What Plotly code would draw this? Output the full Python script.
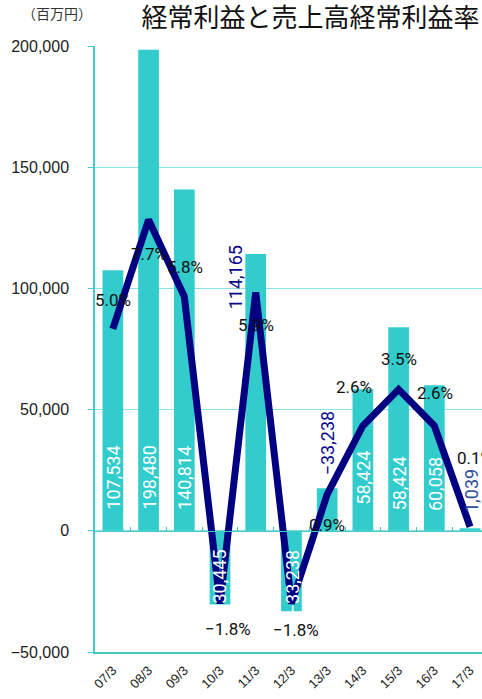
import plotly.graph_objects as go

# ---------------- data ----------------
periods = ["07/3", "08/3", "09/3", "10/3", "11/3", "12/3", "13/3", "14/3", "15/3", "16/3", "17/3"]
profit = [107534, 198480, 140814, -30445, 114165, -33238, 17600, 58424, 84000, 60058, 1039]
profit_labels = ["107,534", "198,480", "140,814", "−30,445", "114,165", "−33,238",
                 "−33,238", "58,424", "58,424", "60,058", "1,039"]
ratio = [5.0, 7.7, 5.8, -1.8, 5.9, -1.8, 0.9, 2.6, 3.5, 2.6, 0.1]
ratio_labels = ["5.0%", "7.7%", "5.8%", "−1.8%", "5.9%", "−1.8%", "0.9%", "2.6%", "3.5%", "2.6%", "0.1%"]
y_ticks = [-50000, 0, 50000, 100000, 150000, 200000]

title_text = "経常利益と売上高経常利益率"
unit_text = "（百万円）"

# ---------------- styles ----------------
BAR = "#33CCCC"
LINE = "#000080"
GRID = "#8AE3E3"
AXIS = "#45CACA"
LABEL_FONT = "Roboto, sans-serif"

# bar label placement: (inside?, xshift, yshift, colour)
bar_label_style = [
    (True, 1, 19, "white"), (True, 1, 19, "white"), (True, 1, 19, "white"),
    (True, 0, 17, "white"), (False, -20.5, -23, "#0A0A8C"), (True, 1, 17, "white"),
    (False, 0, 11, "#0A0A8C"), (True, 1, 24, "white"), (True, 1, 18, "white"),
    (True, 1, 18, "white"), (False, 1.5, 13, "#2F4F9A"),
]
# ratio label offsets (xshift, yshift)
ratio_label_shift = [(0.5, 29), (0, -34.5), (0.5, 29), (8, -25), (0, -32.5), (4.5, -26),
                     (0, -31), (-8.5, 38.5), (0.5, 30.5), (0.5, 33), (4.5, 68.5)]

fig = go.Figure()

fig.add_trace(go.Bar(
    x=periods, y=profit, marker=dict(color=BAR, line=dict(width=0)),
    hoverinfo="skip", showlegend=False,
))
fig.add_trace(go.Scatter(
    x=periods, y=ratio, yaxis="y2", mode="lines",
    line=dict(color=LINE, width=7),
    hoverinfo="skip", showlegend=False,
))
# invisible helper carrying the zero-line axis (ticks at category boundaries)
fig.add_trace(go.Scatter(
    x=periods, y=profit, xaxis="x2", mode="markers", marker=dict(opacity=0),
    hoverinfo="skip", showlegend=False,
))

annotations = []
for i, p in enumerate(periods):
    inside, xs, ys, col = bar_label_style[i]
    if inside:
        positive = profit[i] >= 0
        annotations.append(dict(x=p, y=0, xref="x", yref="y", text=profit_labels[i],
                                textangle=-90, showarrow=False, xanchor="center",
                                yanchor="bottom" if positive else "top",
                                xshift=xs, yshift=ys if positive else -ys,
                                font=dict(family=LABEL_FONT, size=18, color=col)))
    else:
        annotations.append(dict(x=p, y=profit[i], xref="x", yref="y", text=profit_labels[i],
                                textangle=-90, showarrow=False, xanchor="center",
                                yanchor="middle" if ys < 0 else "bottom",
                                xshift=xs, yshift=ys,
                                font=dict(family=LABEL_FONT, size=18, color=col)))
    dx, dy = ratio_label_shift[i]
    annotations.append(dict(x=p, y=ratio[i], xref="x", yref="y2", text=ratio_labels[i],
                            showarrow=False, xanchor="center", yanchor="middle",
                            xshift=dx, yshift=dy,
                            font=dict(family=LABEL_FONT, size=17, color="#111111")))

annotations.append(dict(x=-0.0988, y=1.0545, xref="paper", yref="paper", text=unit_text,
                        showarrow=False, xanchor="center", yanchor="middle",
                        font=dict(family="Noto Sans CJK JP", size=14, color="#333333")))

fig.update_layout(
    width=482, height=699,
    margin=dict(l=95.2, r=0, t=46, b=47),
    paper_bgcolor="white", plot_bgcolor="white",
    bargap=0.42,
    showlegend=False,
    title=dict(text=title_text, xref="container", yref="container",
               x=310.5 / 482, y=1 - 18 / 699, xanchor="center", yanchor="middle",
               font=dict(family="Noto Sans CJK JP", size=26, color="#111111")),
    xaxis=dict(type="category", categoryorder="array", categoryarray=periods,
               range=[-0.5, 10.335], showgrid=False, zeroline=False,
               showline=True, linecolor=AXIS, linewidth=1.5, ticks="",
               ticklabelstandoff=4,
               tickangle=-45, tickfont=dict(family="Liberation Sans", size=13, color="#222222")),
    xaxis2=dict(type="category", categoryorder="array", categoryarray=periods,
                matches="x", overlaying="x", anchor="free", position=0.2,
                showline=True, linecolor=AXIS, linewidth=1.2, showgrid=False,
                zeroline=False, ticks="inside", tickson="boundaries", ticklen=4,
                tickcolor=AXIS, showticklabels=False),
    yaxis=dict(range=[-50000, 200000], tickvals=y_ticks, tickformat=",",
               showgrid=True, gridcolor=GRID, gridwidth=1, zeroline=False,
               showline=True, linecolor=AXIS, linewidth=1.5,
               ticks="outside", ticklen=5, tickcolor=AXIS, ticklabelstandoff=16,
               tickfont=dict(family="Liberation Sans", size=16, color="#222222")),
    yaxis2=dict(range=[-3, 12], overlaying="y", side="right", visible=False),
    annotations=annotations,
)

fig.write_html("out.html", config={"displayModeBar": False},
               post_script="document.body.style.margin='0';document.body.style.overflow='hidden';")
